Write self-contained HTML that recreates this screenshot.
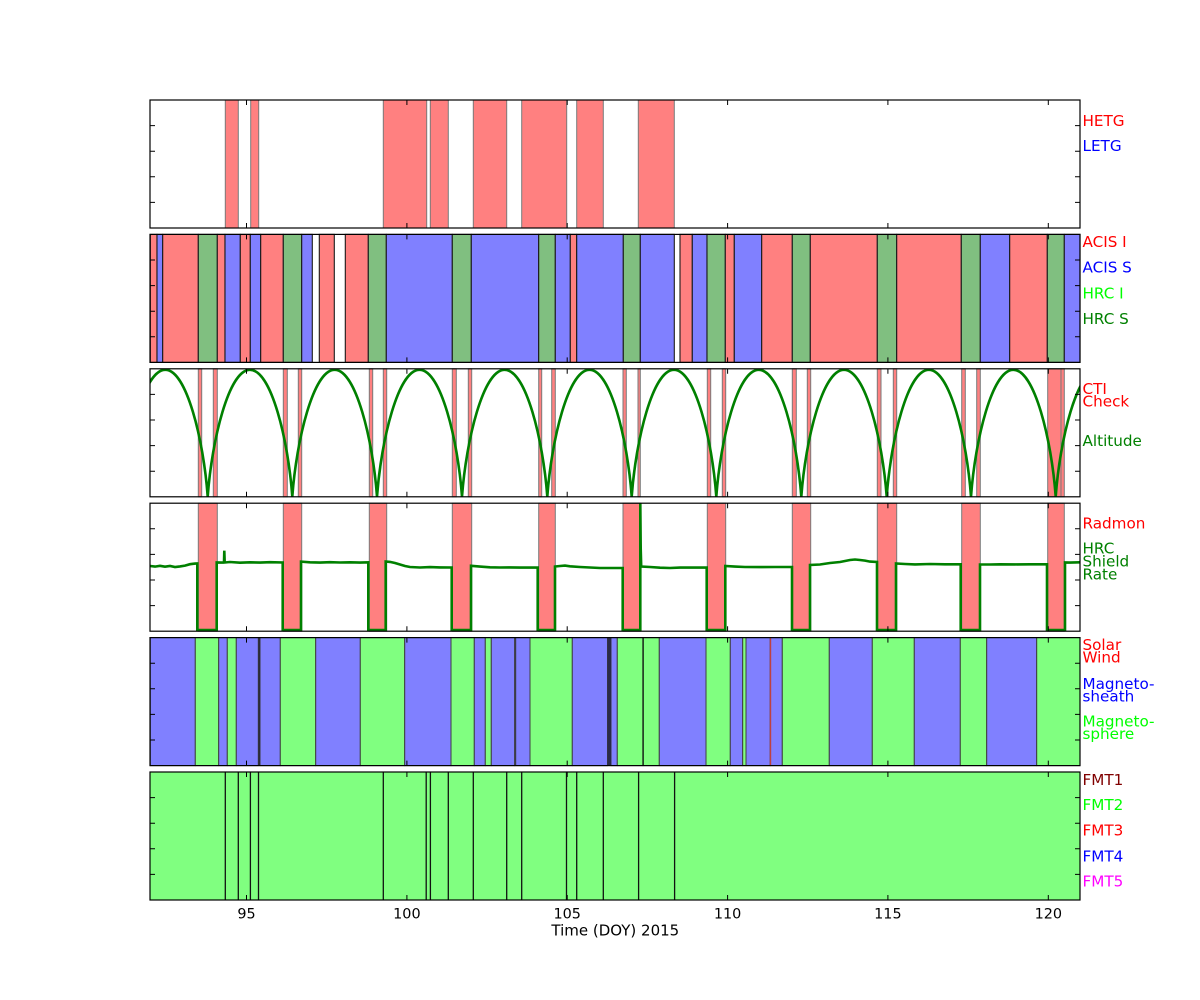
<!DOCTYPE html>
<html>
<head>
<meta charset="utf-8">
<style>
  html, body { margin: 0; padding: 0; background: #ffffff; }
  body { width: 1200px; height: 1000px; overflow: hidden; }
  svg { display: block; }
  text { font-family: "DejaVu Sans", "Liberation Sans", sans-serif; }
</style>
</head>
<body>
<svg width="1200" height="1000" viewBox="0 0 1200 1000" xmlns="http://www.w3.org/2000/svg">
  <defs>
    <clipPath id="c3"><rect x="150" y="368.8" width="930" height="128"/></clipPath>
    <clipPath id="c4"><rect x="150" y="503.2" width="930" height="128"/></clipPath>
  </defs>
  <rect x="0" y="0" width="1200" height="1000" fill="#ffffff"/>

  <!-- Panel 1: HETG / LETG -->
  <g fill="#ff8080" stroke="#7a7a7a" stroke-width="1">
    <rect x="225.3" y="100" width="13" height="128"/>
    <rect x="250.7" y="100" width="8" height="128"/>
    <rect x="383.3" y="100" width="43.4" height="128"/>
    <rect x="430.3" y="100" width="18" height="128"/>
    <rect x="473.3" y="100" width="33.4" height="128"/>
    <rect x="521.7" y="100" width="45" height="128"/>
    <rect x="576.7" y="100" width="26.6" height="128"/>
    <rect x="638.3" y="100" width="36" height="128"/>
  </g>

  <!-- Panel 2: instruments -->
  <g stroke="#1a1a1a" stroke-width="1.1">
    <rect fill="#ff8080" x="150.3" y="234.4" width="6.7" height="128"/>
    <rect fill="#8080ff" x="157" y="234.4" width="5.7" height="128"/>
    <rect fill="#ff8080" x="162.7" y="234.4" width="35.6" height="128"/>
    <rect fill="#80bf80" x="198.3" y="234.4" width="19" height="128"/>
    <rect fill="#ff8080" x="217.3" y="234.4" width="7.7" height="128"/>
    <rect fill="#8080ff" x="225" y="234.4" width="15.3" height="128"/>
    <rect fill="#ff8080" x="240.3" y="234.4" width="10" height="128"/>
    <rect fill="#8080ff" x="250.3" y="234.4" width="10.4" height="128"/>
    <rect fill="#ff8080" x="260.7" y="234.4" width="22.6" height="128"/>
    <rect fill="#80bf80" x="283.3" y="234.4" width="18.4" height="128"/>
    <rect fill="#8080ff" x="301.7" y="234.4" width="10.6" height="128"/>
    <rect fill="#ff8080" x="319.3" y="234.4" width="15" height="128"/>
    <rect fill="#ff8080" x="345.3" y="234.4" width="23" height="128"/>
    <rect fill="#80bf80" x="368.3" y="234.4" width="18" height="128"/>
    <rect fill="#8080ff" x="386.3" y="234.4" width="66" height="128"/>
    <rect fill="#80bf80" x="452.3" y="234.4" width="19" height="128"/>
    <rect fill="#8080ff" x="471.3" y="234.4" width="67.4" height="128"/>
    <rect fill="#80bf80" x="538.7" y="234.4" width="16.6" height="128"/>
    <rect fill="#8080ff" x="555.3" y="234.4" width="15" height="128"/>
    <rect fill="#ff8080" x="570.3" y="234.4" width="6.4" height="128"/>
    <rect fill="#8080ff" x="576.7" y="234.4" width="46.6" height="128"/>
    <rect fill="#80bf80" x="623.3" y="234.4" width="17" height="128"/>
    <rect fill="#8080ff" x="640.3" y="234.4" width="34" height="128"/>
    <rect fill="#ff8080" x="680" y="234.4" width="12.3" height="128"/>
    <rect fill="#8080ff" x="692.3" y="234.4" width="14.7" height="128"/>
    <rect fill="#80bf80" x="707" y="234.4" width="18.3" height="128"/>
    <rect fill="#ff8080" x="725.3" y="234.4" width="9" height="128"/>
    <rect fill="#8080ff" x="734.3" y="234.4" width="27.4" height="128"/>
    <rect fill="#ff8080" x="761.7" y="234.4" width="30.6" height="128"/>
    <rect fill="#80bf80" x="792.3" y="234.4" width="18" height="128"/>
    <rect fill="#ff8080" x="810.3" y="234.4" width="67" height="128"/>
    <rect fill="#80bf80" x="877.3" y="234.4" width="19.4" height="128"/>
    <rect fill="#ff8080" x="896.7" y="234.4" width="64.6" height="128"/>
    <rect fill="#80bf80" x="961.3" y="234.4" width="19" height="128"/>
    <rect fill="#8080ff" x="980.3" y="234.4" width="29.4" height="128"/>
    <rect fill="#ff8080" x="1009.7" y="234.4" width="37.6" height="128"/>
    <rect fill="#80bf80" x="1047.3" y="234.4" width="17" height="128"/>
    <rect fill="#8080ff" x="1064.3" y="234.4" width="15.7" height="128"/>
  </g>

  <!-- Panel 3: CTI check + altitude -->
  <g fill="#ff8080" stroke="#7a7a7a" stroke-width="1">
    <rect x="198.3" y="368.8" width="3.4" height="128"/>
    <rect x="213.3" y="368.8" width="4" height="128"/>
    <rect x="283.3" y="368.8" width="4" height="128"/>
    <rect x="298.3" y="368.8" width="3.4" height="128"/>
    <rect x="369.3" y="368.8" width="3.4" height="128"/>
    <rect x="383.3" y="368.8" width="3.4" height="128"/>
    <rect x="452.3" y="368.8" width="4" height="128"/>
    <rect x="468.3" y="368.8" width="3.4" height="128"/>
    <rect x="538.7" y="368.8" width="3" height="128"/>
    <rect x="551.7" y="368.8" width="3.6" height="128"/>
    <rect x="623" y="368.8" width="3.3" height="128"/>
    <rect x="638" y="368.8" width="2.3" height="128"/>
    <rect x="707.3" y="368.8" width="3.4" height="128"/>
    <rect x="722.3" y="368.8" width="3.4" height="128"/>
    <rect x="792.3" y="368.8" width="4" height="128"/>
    <rect x="807.3" y="368.8" width="3.4" height="128"/>
    <rect x="877.3" y="368.8" width="3.7" height="128"/>
    <rect x="893.3" y="368.8" width="3.4" height="128"/>
    <rect x="961.7" y="368.8" width="3.6" height="128"/>
    <rect x="976.7" y="368.8" width="3.6" height="128"/>
    <rect x="1047.7" y="368.8" width="13.3" height="128"/>
    <rect x="1061" y="368.8" width="3.3" height="128"/>
  </g>
  <path clip-path="url(#c3)" fill="none" stroke="#008000" stroke-width="2.6" stroke-linejoin="round"
    d="M122.9,496.5 C127.1,439.5 144.1,369.8 165.3,369.8 C186.5,369.8 203.5,439.5 207.7,496.5
       C211.9,439.5 228.9,369.8 250,369.8 C271.2,369.8 288.1,439.5 292.3,496.5
       C296.5,439.5 313.5,369.8 334.65,369.8 C355.8,369.8 372.8,439.5 377,496.5
       C381.25,439.5 398.25,369.8 419.5,369.8 C440.75,369.8 457.75,439.5 462,496.5
       C466.3,439.5 483.3,369.8 504.65,369.8 C526,369.8 543,439.5 547.3,496.5
       C551.5,439.5 568.4,369.8 589.5,369.8 C610.6,369.8 627.5,439.5 631.7,496.5
       C635.9,439.5 652.85,369.8 674,369.8 C695.15,369.8 712.1,439.5 716.3,496.5
       C720.55,439.5 737.55,369.8 758.8,369.8 C780.05,369.8 797.05,439.5 801.3,496.5
       C805.6,439.5 822.65,369.8 844,369.8 C865.35,369.8 882.4,439.5 886.7,496.5
       C890.9,439.5 907.75,369.8 928.85,369.8 C949.95,369.8 966.8,439.5 971,496.5
       C975.2,439.5 992.15,369.8 1013.35,369.8 C1034.55,369.8 1051.5,439.5 1055.7,496.5
       C1059.9,439.5 1076.9,369.8 1098.1,369.8 C1119.3,369.8 1136.3,439.5 1140.5,496.5"/>

  <!-- Panel 4: Radmon + HRC shield rate -->
  <g fill="#ff8080" stroke="#7a7a7a" stroke-width="1">
    <rect x="198.3" y="503.2" width="19" height="128"/>
    <rect x="283.3" y="503.2" width="18.4" height="128"/>
    <rect x="369.3" y="503.2" width="17.4" height="128"/>
    <rect x="452.3" y="503.2" width="19.4" height="128"/>
    <rect x="538.7" y="503.2" width="16.6" height="128"/>
    <rect x="623" y="503.2" width="17.3" height="128"/>
    <rect x="707.3" y="503.2" width="18.4" height="128"/>
    <rect x="792.3" y="503.2" width="18.4" height="128"/>
    <rect x="877.3" y="503.2" width="19.4" height="128"/>
    <rect x="961.7" y="503.2" width="18.6" height="128"/>
    <rect x="1047.7" y="503.2" width="16.6" height="128"/>
  </g>
  <polyline clip-path="url(#c4)" fill="none" stroke="#008000" stroke-width="2.6" stroke-linejoin="miter"
    points="150,566 155,566.6 160,565.8 165,566.7 170,566 175,567 180,566.4 185,565.6 190,564.2 195,563.6 197.3,563.5
            197.3,630 216.7,630 216.7,562.5 222,562.6 224,562.4 224.3,550.7 224.7,562.5 230,562 240,562.7 250,562.3 260,562.6 270,562.2 282.7,562.5
            282.7,630 301,630 301,561.6 310,562.3 320,562.6 330,562.2 340,562.5 350,562.3 360,562.6 368.3,562.3
            368.3,630 385.7,630 385.7,561.5 390,561.9 395,563 400,564.5 405,566 410,567 420,567.5 430,567.1 440,567.4 451.7,567.5
            451.7,630 471,630 471,565.8 480,566.6 490,567.3 500,567.5 510,567.4 520,567.6 537.7,567.5
            537.7,630 555,630 555,566.5 560,566 565,565.6 570,566.3 580,567 590,567.5 600,568 610,568 622.7,568
            622.7,630 640.3,630 640.3,503.5 640.7,548 641.2,566.5 650,567 660,567.7 670,568 680,567.6 690,567.6 706.7,567.5
            706.7,630 725.3,630 725.3,566 735,566.6 745,567 760,567.1 775,567 792,567
            792,630 810,630 810,565 820,564.5 830,563 840,562 850,560 855,559.5 860,560 865,560.6 870,561.6 877,562
            877,630 896,630 896,563.5 905,564 915,564.4 930,564 945,564.3 960.7,564.3
            960.7,630 980,630 980,564.5 990,564.5 1000,564.3 1015,564.4 1030,564.3 1047,564.3
            1047,630 1065,630 1065,562.5 1070,562.6 1080,562.3"/>

  <!-- Panel 5: solar wind / magnetosheath / magnetosphere -->
  <g stroke="#404040" stroke-width="1">
    <rect fill="#8080ff" x="150.3" y="637.6" width="45" height="128"/>
    <rect fill="#80ff80" x="195.3" y="637.6" width="23.4" height="128"/>
    <rect fill="#8080ff" x="218.7" y="637.6" width="8.6" height="128"/>
    <rect fill="#80ff80" x="227.3" y="637.6" width="9" height="128"/>
    <rect fill="#8080ff" x="236.3" y="637.6" width="22" height="128"/>
    <rect fill="#8080ff" x="260" y="637.6" width="20.3" height="128"/>
    <rect fill="#80ff80" x="280.3" y="637.6" width="35.4" height="128"/>
    <rect fill="#8080ff" x="315.7" y="637.6" width="44.6" height="128"/>
    <rect fill="#80ff80" x="360.3" y="637.6" width="44.4" height="128"/>
    <rect fill="#8080ff" x="404.7" y="637.6" width="46.3" height="128"/>
    <rect fill="#80ff80" x="451" y="637.6" width="23.3" height="128"/>
    <rect fill="#8080ff" x="474.3" y="637.6" width="11" height="128"/>
    <rect fill="#80ff80" x="485.3" y="637.6" width="6" height="128"/>
    <rect fill="#8080ff" x="491.3" y="637.6" width="23.4" height="128"/>
    <rect fill="#8080ff" x="514.7" y="637.6" width="15.3" height="128"/>
    <rect fill="#80ff80" x="530" y="637.6" width="42.3" height="128"/>
    <rect fill="#8080ff" x="572.3" y="637.6" width="35.2" height="128"/>
    <rect fill="#8080ff" x="611" y="637.6" width="6.3" height="128"/>
    <rect fill="#80ff80" x="617.3" y="637.6" width="25.7" height="128"/>
    <rect fill="#80ff80" x="643" y="637.6" width="16.3" height="128"/>
    <rect fill="#8080ff" x="659.3" y="637.6" width="46.7" height="128"/>
    <rect fill="#80ff80" x="706" y="637.6" width="24.3" height="128"/>
    <rect fill="#8080ff" x="730.3" y="637.6" width="12.4" height="128"/>
    <rect fill="#80ff80" x="742.7" y="637.6" width="3.3" height="128"/>
    <rect fill="#8080ff" x="746" y="637.6" width="24.3" height="128"/>
    <rect fill="#8080ff" x="770.3" y="637.6" width="12" height="128"/>
    <rect fill="#80ff80" x="782.3" y="637.6" width="47" height="128"/>
    <rect fill="#8080ff" x="829.3" y="637.6" width="43" height="128"/>
    <rect fill="#80ff80" x="872.3" y="637.6" width="42" height="128"/>
    <rect fill="#8080ff" x="914.3" y="637.6" width="46" height="128"/>
    <rect fill="#80ff80" x="960.3" y="637.6" width="26.4" height="128"/>
    <rect fill="#8080ff" x="986.7" y="637.6" width="50" height="128"/>
    <rect fill="#80ff80" x="1036.7" y="637.6" width="43.3" height="128"/>
  </g>
  <g>
    <rect x="258.3" y="637.6" width="1.8" height="128" fill="#2a2a3a"/>
    <rect x="514.8" y="637.6" width="1.4" height="128" fill="#3a3a4a"/>
    <rect x="607.4" y="637.6" width="3.7" height="128" fill="#2a2a48"/>
    <rect x="642.3" y="637.6" width="1.6" height="128" fill="#1f2f1f"/>
    <rect x="769.8" y="637.6" width="1.4" height="128" fill="#c04040"/>
  </g>

  <!-- Panel 6: formats -->
  <rect x="150" y="772" width="930" height="128" fill="#80ff80"/>
  <g stroke="#111111" stroke-width="1.3">
    <line x1="225.3" y1="772" x2="225.3" y2="900"/>
    <line x1="238.3" y1="772" x2="238.3" y2="900"/>
    <line x1="250.4" y1="772" x2="250.4" y2="900"/>
    <line x1="258.5" y1="772" x2="258.5" y2="900"/>
    <line x1="383.3" y1="772" x2="383.3" y2="900"/>
    <line x1="426.2" y1="772" x2="426.2" y2="900"/>
    <line x1="430.4" y1="772" x2="430.4" y2="900"/>
    <line x1="448.3" y1="772" x2="448.3" y2="900"/>
    <line x1="473.3" y1="772" x2="473.3" y2="900"/>
    <line x1="506.7" y1="772" x2="506.7" y2="900"/>
    <line x1="521.7" y1="772" x2="521.7" y2="900"/>
    <line x1="566.5" y1="772" x2="566.5" y2="900"/>
    <line x1="576.7" y1="772" x2="576.7" y2="900"/>
    <line x1="603.3" y1="772" x2="603.3" y2="900"/>
    <line x1="638.6" y1="772" x2="638.6" y2="900"/>
    <line x1="674.6" y1="772" x2="674.6" y2="900"/>
  </g>

  <!-- Ticks -->
  <g stroke="#000000" stroke-width="1">
    <path d="M150,125.6h5M150,151.2h5M150,176.8h5M150,202.4h5 M1080,125.6h-5M1080,151.2h-5M1080,176.8h-5M1080,202.4h-5"/>
    <path d="M150,260h5M150,285.6h5M150,311.2h5M150,336.8h5 M1080,260h-5M1080,285.6h-5M1080,311.2h-5M1080,336.8h-5"/>
    <path d="M150,394.4h5M150,420h5M150,445.6h5M150,471.2h5 M1080,394.4h-5M1080,420h-5M1080,445.6h-5M1080,471.2h-5"/>
    <path d="M150,528.8h5M150,554.4h5M150,580h5M150,605.6h5 M1080,528.8h-5M1080,554.4h-5M1080,580h-5M1080,605.6h-5"/>
    <path d="M150,663.2h5M150,688.8h5M150,714.4h5M150,740h5 M1080,663.2h-5M1080,688.8h-5M1080,714.4h-5M1080,740h-5"/>
    <path d="M150,797.6h5M150,823.2h5M150,848.8h5M150,874.4h5 M1080,797.6h-5M1080,823.2h-5M1080,848.8h-5M1080,874.4h-5"/>
    <path d="M246.5,100v5M406.9,100v5M567.2,100v5M727.6,100v5M887.9,100v5M1048.3,100v5
             M246.5,228v-5M406.9,228v-5M567.2,228v-5M727.6,228v-5M887.9,228v-5M1048.3,228v-5"/>
    <path d="M246.5,234.4v5M406.9,234.4v5M567.2,234.4v5M727.6,234.4v5M887.9,234.4v5M1048.3,234.4v5
             M246.5,362.4v-5M406.9,362.4v-5M567.2,362.4v-5M727.6,362.4v-5M887.9,362.4v-5M1048.3,362.4v-5"/>
    <path d="M246.5,368.8v5M406.9,368.8v5M567.2,368.8v5M727.6,368.8v5M887.9,368.8v5M1048.3,368.8v5
             M246.5,496.8v-5M406.9,496.8v-5M567.2,496.8v-5M727.6,496.8v-5M887.9,496.8v-5M1048.3,496.8v-5"/>
    <path d="M246.5,503.2v5M406.9,503.2v5M567.2,503.2v5M727.6,503.2v5M887.9,503.2v5M1048.3,503.2v5
             M246.5,631.2v-5M406.9,631.2v-5M567.2,631.2v-5M727.6,631.2v-5M887.9,631.2v-5M1048.3,631.2v-5"/>
    <path d="M246.5,637.6v5M406.9,637.6v5M567.2,637.6v5M727.6,637.6v5M887.9,637.6v5M1048.3,637.6v5
             M246.5,765.6v-5M406.9,765.6v-5M567.2,765.6v-5M727.6,765.6v-5M887.9,765.6v-5M1048.3,765.6v-5"/>
    <path d="M246.5,772v5M406.9,772v5M567.2,772v5M727.6,772v5M887.9,772v5M1048.3,772v5
             M246.5,900v-5M406.9,900v-5M567.2,900v-5M727.6,900v-5M887.9,900v-5M1048.3,900v-5"/>
  </g>

  <!-- Frames -->
  <g fill="none" stroke="#000000" stroke-width="1.2">
    <rect x="150" y="100" width="930" height="128"/>
    <rect x="150" y="234.4" width="930" height="128"/>
    <rect x="150" y="368.8" width="930" height="128"/>
    <rect x="150" y="503.2" width="930" height="128"/>
    <rect x="150" y="637.6" width="930" height="128"/>
    <rect x="150" y="772" width="930" height="128"/>
  </g>

  <!-- Right labels -->
  <g font-size="15.2">
    <text x="1082.5" y="126" fill="#ff0000">HETG</text>
    <text x="1082.5" y="151" fill="#0000ff">LETG</text>

    <text x="1082.5" y="247" fill="#ff0000">ACIS I</text>
    <text x="1082.5" y="272.7" fill="#0000ff">ACIS S</text>
    <text x="1082.5" y="298.3" fill="#00ff00">HRC I</text>
    <text x="1082.5" y="324" fill="#008000">HRC S</text>

    <text x="1082.5" y="394" fill="#ff0000">CTI</text>
    <text x="1082.5" y="406.7" fill="#ff0000">Check</text>
    <text x="1082.5" y="446" fill="#008000">Altitude</text>

    <text x="1082.5" y="528.7" fill="#ff0000">Radmon</text>
    <text x="1082.5" y="553.5" fill="#008000">HRC</text>
    <text x="1082.5" y="566.7" fill="#008000">Shield</text>
    <text x="1082.5" y="579.3" fill="#008000">Rate</text>

    <text x="1082.5" y="650" fill="#ff0000">Solar</text>
    <text x="1082.5" y="662.5" fill="#ff0000">Wind</text>
    <text x="1082.5" y="689" fill="#0000ff">Magneto-</text>
    <text x="1082.5" y="701.5" fill="#0000ff">sheath</text>
    <text x="1082.5" y="726.7" fill="#00ff00">Magneto-</text>
    <text x="1082.5" y="738.8" fill="#00ff00">sphere</text>

    <text x="1082.5" y="785" fill="#800000">FMT1</text>
    <text x="1082.5" y="810" fill="#00ff00">FMT2</text>
    <text x="1082.5" y="835.7" fill="#ff0000">FMT3</text>
    <text x="1082.5" y="861.7" fill="#0000ff">FMT4</text>
    <text x="1082.5" y="886.7" fill="#ff00ff">FMT5</text>
  </g>

  <!-- X tick labels -->
  <g font-size="14.4" fill="#000000" text-anchor="middle">
    <text x="246.5" y="918.3">95</text>
    <text x="406.9" y="918.3">100</text>
    <text x="567.2" y="918.3">105</text>
    <text x="727.6" y="918.3">110</text>
    <text x="887.9" y="918.3">115</text>
    <text x="1048.3" y="918.3">120</text>
  </g>
  <text x="615.3" y="935.7" font-size="15" fill="#000000" text-anchor="middle">Time (DOY) 2015</text>
</svg>
</body>
</html>
